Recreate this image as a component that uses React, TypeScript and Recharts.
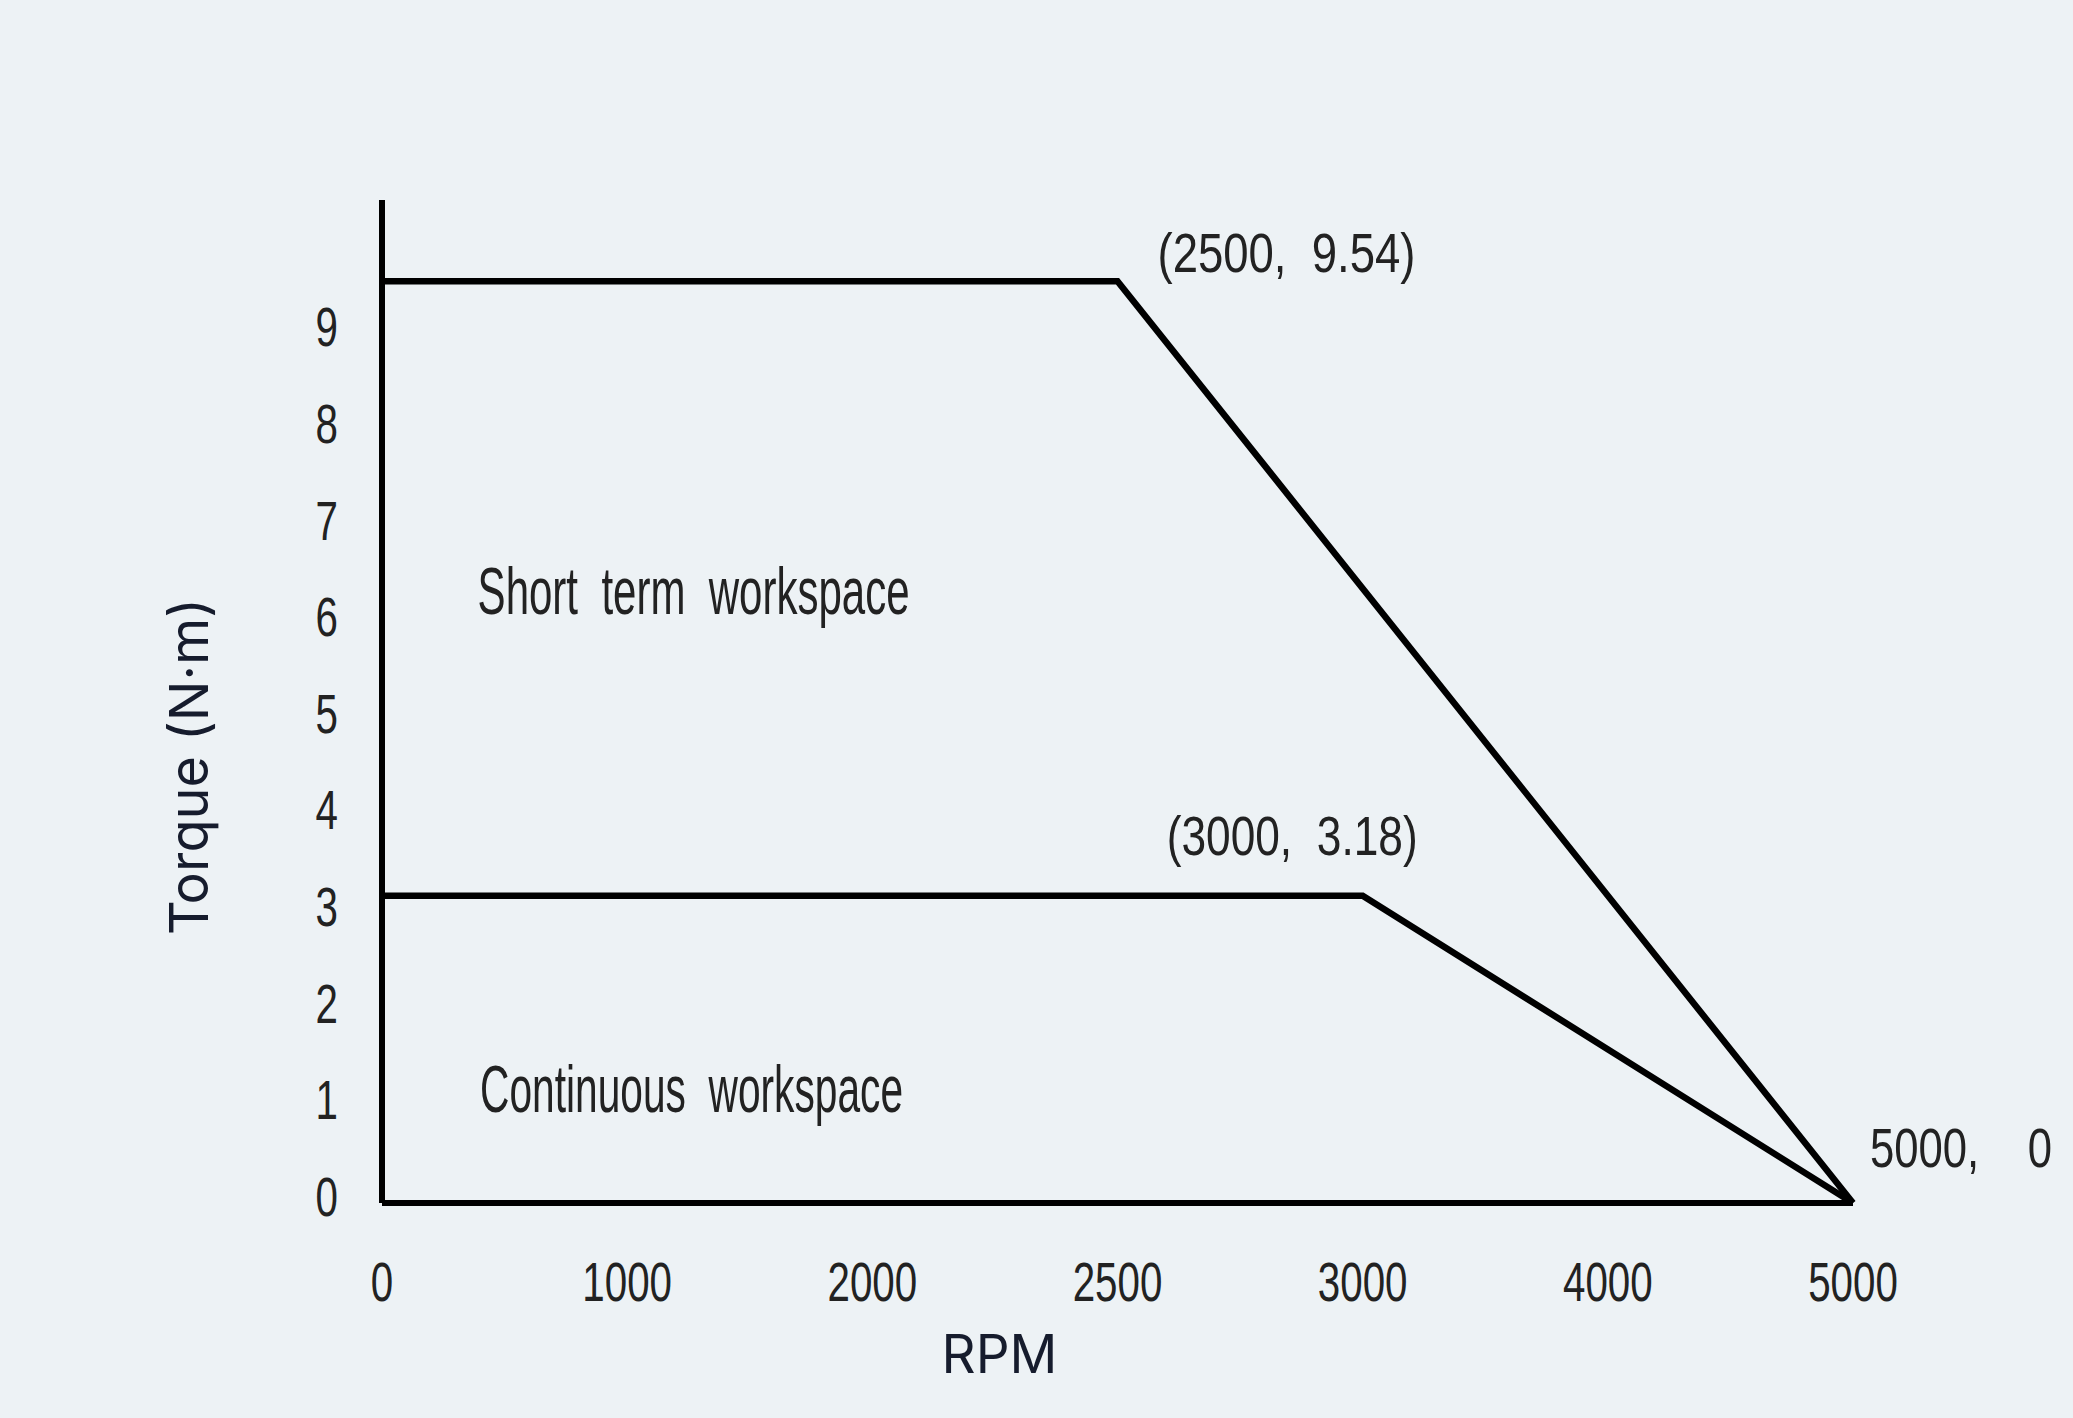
import React from "react"
import { Label, Line, LineChart, ReferenceDot, XAxis, YAxis } from "recharts"

// tick positions are evenly spaced in the original drawing, not linear in rpm
const rpmTicks = [0, 1000, 2000, 2500, 3000, 4000, 5000]
const torqueTicks = [0, 1, 2, 3, 4, 5, 6, 7, 8, 9]

const shortTermRpm = [0, 2500, 5000]
const shortTermTorque = [9.54, 9.54, 0]
const continuousRpm = [0, 3000, 5000]
const continuousTorque = [3.18, 3.18, 0]

const cornerLabels = ["(2500,  9.54)", "(3000,  3.18)", "5000,    0"]
const regionLabels = ["Short  term  workspace", "Continuous  workspace"]

const toSeries = (rpm: number[], torque: number[]) =>
  rpm.map((r, i) => ({ pos: rpmTicks.indexOf(r), torque: torque[i] }))

const shortTermData = toSeries(shortTermRpm, shortTermTorque)
const continuousData = toSeries(continuousRpm, continuousTorque)

const BG = "#edf2f5"
const INK = "#222"
const NARROW = "'Liberation Sans', Arial, sans-serif"
const SANS = "Inter, 'Noto Sans', sans-serif"

function XTick({ x, y, payload }: any) {
  return (
    <g transform={`translate(${x},${y + 98}) scale(0.72,1)`}>
      <text textAnchor="middle" fontFamily={NARROW} fontSize={56} fill={INK}>
        {rpmTicks[payload.value]}
      </text>
    </g>
  )
}

function YTick({ x, y, payload }: any) {
  return (
    <g transform={`translate(${x - 44},${y + 13}) scale(0.72,1)`}>
      <text textAnchor="end" fontFamily={NARROW} fontSize={56} fill={INK}>
        {payload.value}
      </text>
    </g>
  )
}

// text anchored to a data point, squeezed to the drawing's narrow lettering
const narrowLabel =
  (text: string, dx: number, dy: number, size: number, length: number) =>
  ({ viewBox }: any) => (
    <text
      x={viewBox.x + dx}
      y={viewBox.y + dy}
      fontFamily={NARROW}
      fontSize={size}
      fill={INK}
      textLength={length}
      lengthAdjust="spacingAndGlyphs"
      style={{ whiteSpace: "pre" }}
    >
      {text}
    </text>
  )

export default function App() {
  return (
    <div style={{ position: "absolute", left: 0, top: 0, width: 2073, height: 1418, background: BG }}>
      <LineChart
        width={2073}
        height={1418}
        margin={{ top: 200, right: 220, bottom: 115, left: 302 }}
      >
        <XAxis
          dataKey="pos"
          type="number"
          domain={[0, rpmTicks.length - 1]}
          ticks={rpmTicks.map((_, i) => i)}
          height={100}
          tickSize={0}
          tickMargin={0}
          tickLine={false}
          axisLine={{ stroke: "#000", strokeWidth: 6 }}
          tick={<XTick />}
          interval={0}
        >
          <Label
            content={({ viewBox }: any) => (
              <text
                x={viewBox.x + viewBox.width / 2 - 118}
                y={viewBox.y + 151}
                textAnchor="middle"
                dominantBaseline="central"
                fontFamily={SANS}
                fontSize={53}
                fill="#161c2d"
              >
                RPM
              </text>
            )}
          />
        </XAxis>
        <YAxis
          type="number"
          domain={[0, 10.38]}
          ticks={torqueTicks}
          width={80}
          tickSize={0}
          tickMargin={0}
          tickLine={false}
          axisLine={{ stroke: "#000", strokeWidth: 6 }}
          tick={<YTick />}
          interval={0}
        >
          <Label
            content={({ viewBox }: any) => {
              const cx = viewBox.x - 114
              const cy = viewBox.y + viewBox.height / 2 + 65
              return (
                <text
                  x={cx}
                  y={cy}
                  transform={`rotate(-90 ${cx} ${cy})`}
                  textAnchor="middle"
                  dominantBaseline="central"
                  fontFamily={SANS}
                  fontSize={54}
                  fill="#161c2d"
                >
                  Torque (N·m)
                </text>
              )
            }}
          />
        </YAxis>

        <Line
          data={shortTermData}
          dataKey="torque"
          type="linear"
          stroke="#000"
          strokeWidth={6.5}
          dot={false}
          activeDot={false}
          isAnimationActive={false}
        />
        <Line
          data={continuousData}
          dataKey="torque"
          type="linear"
          stroke="#000"
          strokeWidth={6.5}
          dot={false}
          activeDot={false}
          isAnimationActive={false}
        />

        <ReferenceDot
          x={shortTermData[1].pos}
          y={shortTermData[1].torque}
          r={0}
          fill="none"
          stroke="none"
          label={narrowLabel(cornerLabels[0], 40, -9, 56, 258)}
        />
        <ReferenceDot
          x={continuousData[1].pos}
          y={continuousData[1].torque}
          r={0}
          fill="none"
          stroke="none"
          label={narrowLabel(cornerLabels[1], -196, -41, 56, 251)}
        />
        <ReferenceDot
          x={continuousData[2].pos}
          y={continuousData[2].torque}
          r={0}
          fill="none"
          stroke="none"
          label={narrowLabel(cornerLabels[2], 17, -36, 56, 182)}
        />
        <ReferenceDot
          x={0.39}
          y={6.1}
          r={0}
          fill="none"
          stroke="none"
          label={narrowLabel(regionLabels[0], 0, 0, 66, 432)}
        />
        <ReferenceDot
          x={0.4}
          y={0.94}
          r={0}
          fill="none"
          stroke="none"
          label={narrowLabel(regionLabels[1], 0, 0, 66, 423)}
        />
      </LineChart>
    </div>
  )
}
